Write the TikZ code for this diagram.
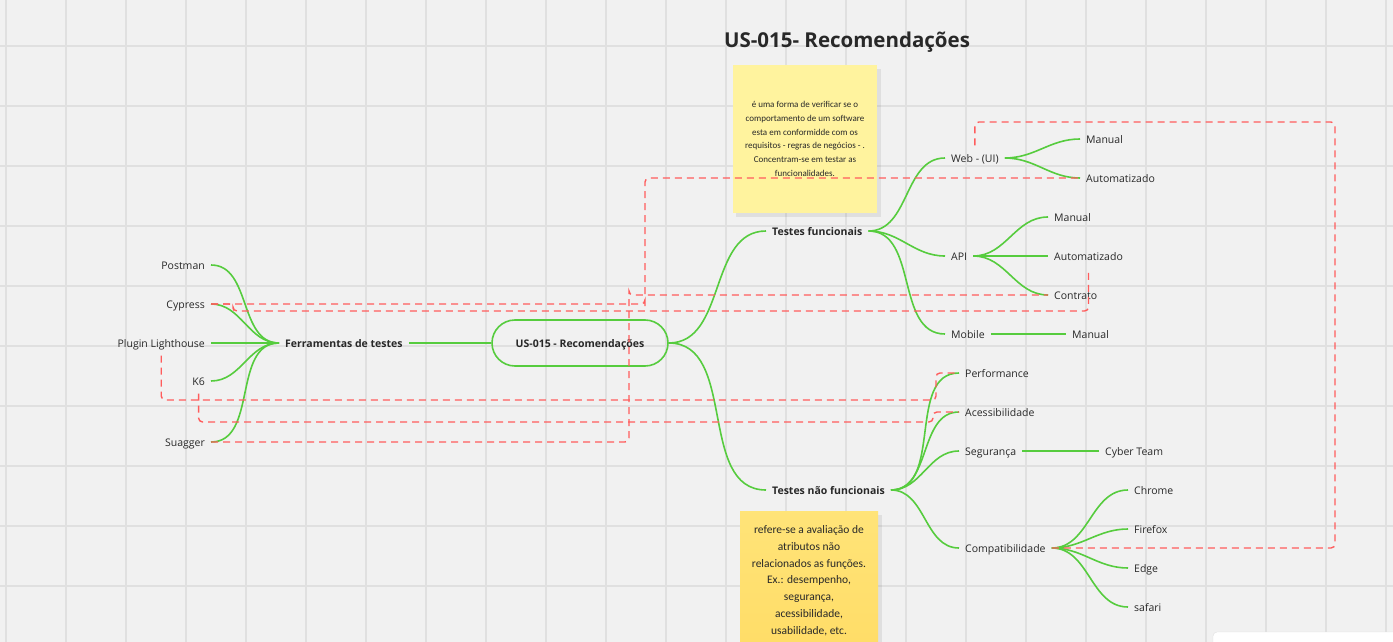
\documentclass[tikz,border=0pt]{standalone}
\usepackage{fontspec}
\setmainfont{Open Sans}
\newfontfamily\notefont{Carlito}
\definecolor{bgc}{RGB}{241,241,241}
\definecolor{gridc}{RGB}{224,224,224}
\definecolor{grn}{RGB}{86,204,62}
\definecolor{dred}{RGB}{255,92,92}
\definecolor{txtc}{RGB}{40,40,40}
\definecolor{note1}{RGB}{255,243,158}
\definecolor{note2}{RGB}{255,221,104}
\begin{document}
\begin{tikzpicture}[x=1pt,y=-1pt,
  lbl/.style={font=\fontsize{10.5}{12}\selectfont, text=txtc, inner xsep=6pt, inner ysep=8pt, text height=8.5pt, text depth=0.5pt},
  blbl/.style={lbl, font=\fontsize{10.5}{12}\selectfont\bfseries},
  br/.style={draw=grn, line width=1.6pt},
  dsh/.style={draw=dred, line width=1.4pt, dash pattern=on 7pt off 5pt, rounded corners=4pt},
  notebox/.style={inner sep=0pt, anchor=north west}]
\useasboundingbox (0,0) rectangle (1393,642);
\fill[bgc] (0,0) rectangle (1393,642);
% grid
\foreach \gx in {6,66,...,1386} \draw[gridc, line width=1.3pt] (\gx,0) -- (\gx,642);
\foreach \gy in {46,106,...,640} \draw[gridc, line width=1.3pt] (0,\gy) -- (1393,\gy);
% title
\node[font=\fontsize{20.5}{24}\selectfont\bfseries, text=txtc] (title) at (847,42) {US-015- Recomendações};
% sticky notes
\fill[black, opacity=0.07] (736,69) rectangle (881,217);
\node[notebox, fill=note1, minimum width=144pt, minimum height=148pt] (n1) at (733,65) {};
\node[font=\notefont\fontsize{9}{13.8}\selectfont, align=center, text=txtc] (n1t) at (805,139) {é uma forma de verificar se o\\comportamento de um software\\esta em conformidde com os\\requisitos - regras de negócios - .\\Concentram-se em testar as\\funcionalidades.};
\fill[black, opacity=0.07] (743,515) rectangle (882,650);
\shade[top color=note2!70!note1, bottom color=note2] (740,511) rectangle (878,642);
\node[notebox, minimum width=138pt, minimum height=131pt] (n2) at (740,511) {};
\node[font=\notefont\fontsize{11.5}{16.8}\selectfont, align=center, text=txtc, anchor=north] (n2t) at (809,522) {refere-se a avaliação de\\atributos não\\relacionados as funções.\\Ex.: desempenho,\\segurança,\\acessibilidade,\\usabilidade, etc.};
% bottom-right white panel
\filldraw[fill=white, draw=gridc, rounded corners=4pt] (1213,632) rectangle (1400,660);
% left nodes
\node[lbl, anchor=east] (pm) at (211,265) {Postman};
\node[lbl, anchor=east] (cy) at (211,304) {Cypress};
\node[lbl, anchor=east] (pl) at (211,343) {Plugin Lighthouse};
\node[lbl, anchor=east] (k6) at (211,381) {K6};
\node[lbl, anchor=east] (sg) at (211,442) {Suagger};
\node[blbl, anchor=west] (fe) at (279,343) {Ferramentas de testes};
% root
\node[draw=grn, line width=1.6pt, rounded corners=23pt, minimum width=176pt, minimum height=46pt, font=\fontsize{10.5}{12}\selectfont\bfseries, text=txtc, text height=8.5pt, text depth=0.5pt] (root) at (580,343) {US-015 - Recomendações};
% right nodes
\node[blbl, anchor=west] (tf) at (766,231) {Testes funcionais};
\node[blbl, anchor=west] (tnf) at (766,490) {Testes não funcionais};
\node[lbl, anchor=west] (web) at (945,158) {Web - (UI)};
\node[lbl, anchor=west] (api) at (945,256) {API};
\node[lbl, anchor=west] (mob) at (945,334) {Mobile};
\node[lbl, anchor=west] (wm) at (1080,139) {Manual};
\node[lbl, anchor=west] (wa) at (1080,178) {Automatizado};
\node[lbl, anchor=west] (am) at (1048,217) {Manual};
\node[lbl, anchor=west] (aa) at (1048,256) {Automatizado};
\node[lbl, anchor=west] (ac) at (1048,295) {Contrato};
\node[lbl, anchor=west] (mm) at (1066,334) {Manual};
\node[lbl, anchor=west] (perf) at (959,373) {Performance};
\node[lbl, anchor=west] (acc) at (959,412) {Acessibilidade};
\node[lbl, anchor=west] (seg) at (959,451) {Segurança};
\node[lbl, anchor=west] (comp) at (959,548) {Compatibilidade};
\node[lbl, anchor=west] (cyb) at (1099,451) {Cyber Team};
\node[lbl, anchor=west] (chr) at (1128,490) {Chrome};
\node[lbl, anchor=west] (ffx) at (1128,529) {Firefox};
\node[lbl, anchor=west] (edg) at (1128,568) {Edge};
\node[lbl, anchor=west] (saf) at (1128,607) {safari};
% green branches
\foreach \c in {pm,cy,pl,k6,sg} \draw[br] (\c.east) to[out=0,in=180] (fe.west);
\draw[br] (fe.east) -- (root.west);
\draw[br] (root.east) to[out=0,in=180] (tf.west);
\draw[br] (root.east) to[out=0,in=180] (tnf.west);
\foreach \c in {web,api,mob} \draw[br] (tf.east) to[out=0,in=180] (\c.west);
\foreach \c in {wm,wa} \draw[br] (web.east) to[out=0,in=180] (\c.west);
\foreach \c in {am,aa,ac} \draw[br] (api.east) to[out=0,in=180] (\c.west);
\draw[br] (mob.east) -- (mm.west);
\foreach \c in {perf,acc,seg,comp} \draw[br] (tnf.east) to[out=0,in=180] (\c.west);
\draw[br] (seg.east) -- (cyb.west);
\foreach \c in {chr,ffx,edg,saf} \draw[br] (comp.east) to[out=0,in=180] (\c.west);
% dashed relations
\coordinate (j1) at (645,303);
\coordinate (j2) at (233,311);
\coordinate (j3) at (936,400);
\coordinate (j4) at (933,422);
\coordinate (j5) at (629,295);
\coordinate (j6) at (1335,122);
\draw[dsh] (cy.east) -| (j1) |- (wa.west);
\draw[dsh] (cy.east) -| (j2) -| (aa.south);
\draw[dsh] (pl.south) |- (j3) |- (perf.west);
\draw[dsh] (k6.south) |- (j4) |- (acc.west);
\draw[dsh] (sg.east) -| (j5) |- (ac.west);
\draw[dsh] (web.north) |- (j6) |- (comp.east);
\end{tikzpicture}
\end{document}
